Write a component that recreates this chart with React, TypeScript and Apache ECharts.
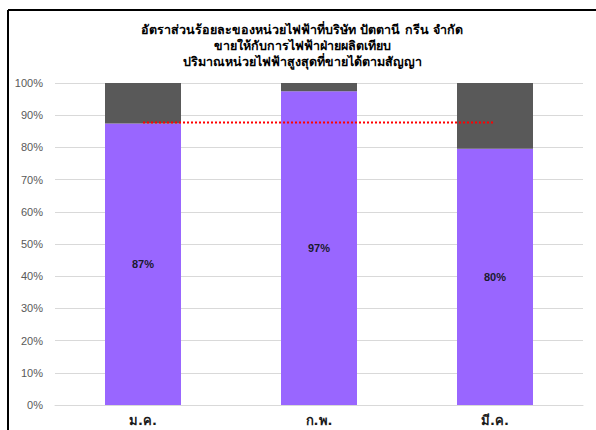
import React, { useEffect, useRef } from "react";
import * as echarts from "echarts";

const titleLines = [
  "อัตราส่วนร้อยละของหน่วยไฟฟ้าที่บริษัท ปัตตานี กรีน จำกัด",
  "ขายให้กับการไฟฟ้าฝ่ายผลิตเทียบ",
  "ปริมาณหน่วยไฟฟ้าสูงสุดที่ขายได้ตามสัญญา",
];
const categories = ["ม.ค.", "ก.พ.", "มี.ค."];
const soldPct = [87.4, 97.4, 79.6];
const remainderPct = [12.6, 2.6, 20.4];
const avgLine = [87.7, 87.7, 87.7];

export default function App() {
  const ref = useRef<HTMLDivElement>(null);
  useEffect(() => {
    if (!ref.current) return;
    const chart = echarts.init(ref.current, null, { renderer: "svg" });
    const font = "Tahoma, 'DejaVu Sans', sans-serif";
    const numFont = "'Liberation Sans', Arial, sans-serif";
    chart.setOption({
      animation: false,
      textStyle: { fontFamily: font },
      grid: { left: 55, right: 13, top: 83, bottom: 25 },
      graphic: [
        { type: "line", shape: { x1: 8, y1: 10, x2: 596, y2: 10 }, style: { stroke: "#000", lineWidth: 2 } },
        { type: "line", shape: { x1: 8, y1: 10, x2: 8, y2: 430 }, style: { stroke: "#000", lineWidth: 2 } },
        {
          type: "text",
          x: 302,
          y: 21,
          style: {
            text: titleLines.join("\n"),
            textAlign: "center",
            fontSize: 12.5,
            fontWeight: "bold",
            lineHeight: 16,
            fill: "#000",
            fontFamily: font,
          },
        },
      ],
      xAxis: {
        type: "category",
        data: categories,
        axisLine: { lineStyle: { color: "#d9d9d9", width: 1 } },
        axisTick: { show: false },
        axisLabel: { color: "#1a1a1a", fontSize: 13, fontWeight: "bold", margin: 9, fontFamily: font },
      },
      yAxis: {
        type: "value",
        min: 0,
        max: 100,
        interval: 10,
        axisLine: { show: false },
        axisTick: { show: false },
        splitLine: { lineStyle: { color: "#d9d9d9", width: 1 } },
        axisLabel: { color: "#595959", fontSize: 11, margin: 12, formatter: "{value}%", fontFamily: numFont },
      },
      series: [
        {
          type: "bar",
          stack: "a",
          data: soldPct,
          barWidth: 76,
          itemStyle: { color: "#9966ff" },
          label: {
            show: true,
            position: "inside",
            color: "#1a1a2e",
            fontSize: 11,
            fontWeight: "bold",
            fontFamily: numFont,
            formatter: (p: any) => Math.round(p.value) + "%",
          },
        },
        {
          type: "bar",
          stack: "a",
          data: remainderPct,
          barWidth: 76,
          itemStyle: { color: "#595959" },
        },
        {
          type: "line",
          data: avgLine,
          symbol: "none",
          z: 5,
          lineStyle: { color: "#ff0000", width: 2, type: [2, 2] },
        },
      ],
    });
    return () => chart.dispose();
  }, []);
  return (
    <div
      ref={ref}
      style={{ position: "fixed", left: 0, top: 0, width: 596, height: 430, background: "#fff" }}
    />
  );
}
